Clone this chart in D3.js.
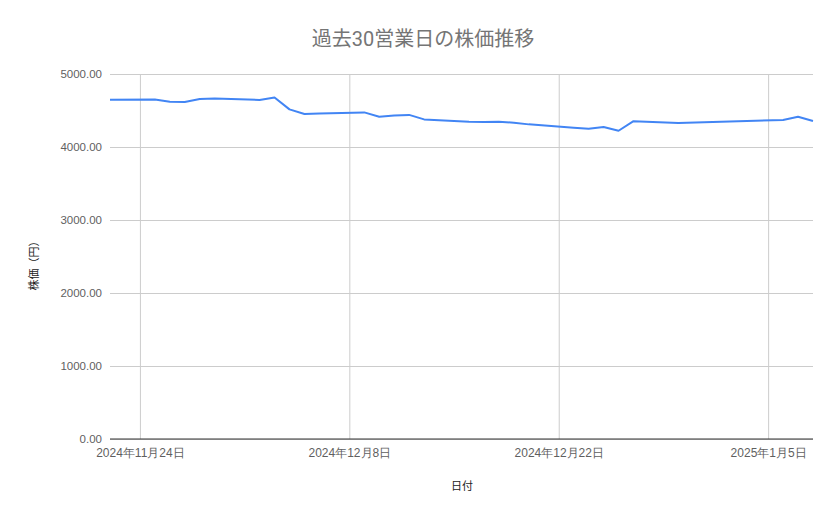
<!DOCTYPE html>
<html>
<head>
<meta charset="utf-8">
<script src="https://cdn.jsdelivr.net/npm/d3@7"></script>
<style>
    body { margin: 0; background: #fff; }
    svg { display: block; font-family: Roboto, "Noto Sans CJK JP", sans-serif; }
</style>
</head>
<body>
<svg width="839" height="519"></svg>
<script>
// 過去30営業日の終値
const dates = [
    "2024-11-22", "2024-11-25", "2024-11-26", "2024-11-27", "2024-11-28", "2024-11-29",
    "2024-12-02", "2024-12-03", "2024-12-04", "2024-12-05", "2024-12-06",
    "2024-12-09", "2024-12-10", "2024-12-11", "2024-12-12", "2024-12-13",
    "2024-12-16", "2024-12-17", "2024-12-18", "2024-12-19", "2024-12-20",
    "2024-12-23", "2024-12-24", "2024-12-25", "2024-12-26", "2024-12-27",
    "2024-12-30", "2025-01-06", "2025-01-07", "2025-01-08"
];
const prices = [
    4648, 4652, 4620, 4616, 4658, 4666,
    4644, 4677, 4515, 4452, 4460,
    4474, 4415, 4433, 4440, 4378,
    4347, 4342, 4347, 4333, 4310,
    4264, 4251, 4274, 4223, 4354,
    4329, 4370, 4415, 4356
];
const xTicks = ["2024-11-24", "2024-12-08", "2024-12-22", "2025-01-05"];
const yTicks = [0, 1000, 2000, 3000, 4000, 5000];

const parse = d3.timeParse("%Y-%m-%d");
const data = dates.map((d, i) => ({date: parse(d), value: prices[i]}));

const plotL = 110, plotR = 813, plotT = 74, plotB = 439;
const svg = d3.select("svg");

let x = d3.scaleTime()
    .domain(d3.extent(data, d => d.date))
    .range([plotL, plotR]);
let y = d3.scaleLinear()
    .domain([0, 5000])
    .range([plotB, plotT]);

// 横グリッドと目盛り
let yAxis = svg.append("g")
    .attr("transform", "translate(" + plotL + ",0)")
    .call(d3.axisLeft(y).tickValues(yTicks).tickFormat(d3.format(".2f")).tickSize(-(plotR - plotL)).tickPadding(8));
yAxis.select(".domain").remove();
yAxis.selectAll("line").attr("stroke", "#cccccc");
yAxis.selectAll("text").attr("fill", "#5f5f5f").style("font-size", "11.5px");

// 縦グリッドと目盛り
let xAxis = svg.append("g")
    .attr("transform", "translate(0," + plotB + ")")
    .call(d3.axisBottom(x).tickValues(xTicks.map(parse))
        .tickFormat(d3.timeFormat("%Y年%-m月%-d日"))
        .tickSize(-(plotB - plotT)).tickPadding(9));
xAxis.select(".domain").remove();
xAxis.selectAll("line").attr("stroke", "#cccccc");
xAxis.selectAll("text").attr("fill", "#5f5f5f").style("font-size", "12px");

// 0 のベースライン
svg.append("line")
    .attr("x1", plotL).attr("x2", plotR)
    .attr("y1", y(0)).attr("y2", y(0))
    .attr("stroke", "#333333")
    .attr("stroke-width", 1.2);

let line = d3.line()
    .x(d => x(d.date))
    .y(d => y(d.value));
svg.append("path")
    .datum(data)
    .attr("fill", "none")
    .attr("stroke", "#4285f4")
    .attr("stroke-width", 2)
    .attr("stroke-linejoin", "round")
    .attr("d", line);

svg.append("text")
    .attr("x", 423).attr("y", 46)
    .attr("text-anchor", "middle")
    .attr("fill", "#757575")
    .style("font-size", "20px")
    .text("過去30営業日の株価推移");

svg.append("text")
    .attr("x", 462).attr("y", 490)
    .attr("text-anchor", "middle")
    .attr("fill", "#222222")
    .style("font-size", "11px")
    .text("日付");

svg.append("text")
    .attr("transform", "translate(38,263) rotate(-90)")
    .attr("text-anchor", "middle")
    .attr("fill", "#222222")
    .style("font-size", "11px")
    .text("株価（円）");
</script>
</body>
</html>
